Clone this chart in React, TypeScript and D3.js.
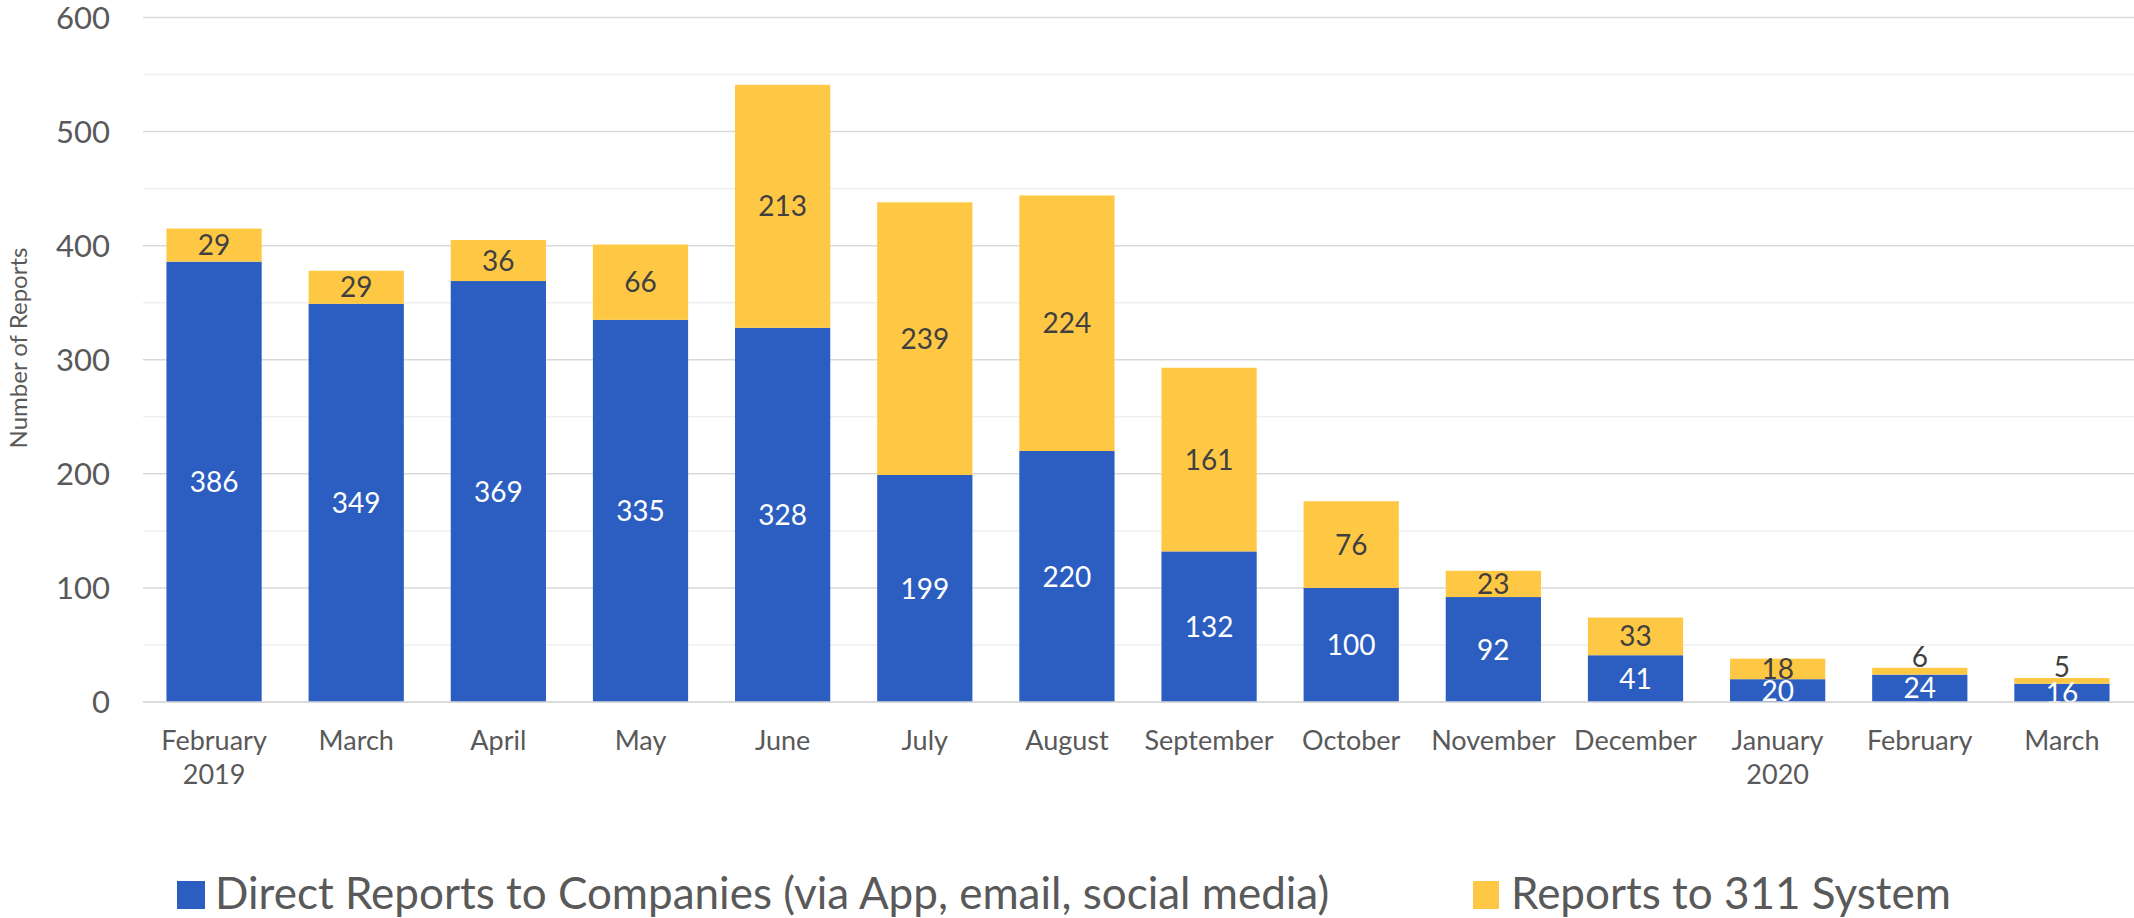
import React from "react";
import * as d3 from "d3";

const months = [
  ["February", "2019"],
  ["March"],
  ["April"],
  ["May"],
  ["June"],
  ["July"],
  ["August"],
  ["September"],
  ["October"],
  ["November"],
  ["December"],
  ["January", "2020"],
  ["February"],
  ["March"],
];
const directReports = [386, 349, 369, 335, 328, 199, 220, 132, 100, 92, 41, 20, 24, 16];
const reports311 = [29, 29, 36, 66, 213, 239, 224, 161, 76, 23, 33, 18, 6, 5];
const yTicks = [0, 100, 200, 300, 400, 500, 600];
const yMinor = [50, 150, 250, 350, 450, 550];
const seriesNames = ["Direct Reports to Companies (via App, email, social media)", "Reports to 311 System"];

const W = 2134;
const H = 918;
const BLUE = "#2C5EC1";
const YELLOW = "#FFC844";
const FONT = "Lato, 'Open Sans', sans-serif";

export default function App() {
  const x = d3
    .scaleBand<number>()
    .domain(d3.range(months.length))
    .range([143, 2133])
    .paddingInner(0.33)
    .paddingOuter(0.165);
  const y = d3.scaleLinear().domain([0, 600]).range([702, 17.5]);
  const bw = x.bandwidth();

  return (
    <svg
      width={W}
      height={H}
      style={{ position: "absolute", left: 0, top: 0, background: "#fff" }}
      fontFamily={FONT}
    >
      {yMinor.map((t) => (
        <line key={"m" + t} x1={143} x2={W} y1={y(t)} y2={y(t)} stroke="#efefef" strokeWidth={1.5} />
      ))}
      {yTicks.map((t) => (
        <line key={"g" + t} x1={143} x2={W} y1={y(t)} y2={y(t)} stroke="#d9d9d9" strokeWidth={1.5} />
      ))}
      {yTicks.map((t) => (
        <text key={"t" + t} x={110} y={y(t)} dy="0.36em" textAnchor="end" fontSize={31} fill="#595959">
          {t}
        </text>
      ))}
      <text
        transform={`translate(18,348) rotate(-90)`}
        textAnchor="middle"
        dy="0.36em"
        fontSize={24}
        fill="#595959"
      >
        Number of Reports
      </text>
      {directReports.map((d, i) => {
        const x0 = x(i)!;
        const s = reports311[i];
        const yb = y(d);
        const yt = y(d + s);
        const yLabelY = s < 10 ? yt - 11 : (yb + yt) / 2;
        return (
          <g key={"b" + i}>
            <rect x={x0} y={yb} width={bw} height={y(0) - yb} fill={BLUE} />
            <rect x={x0} y={yt} width={bw} height={yb - yt} fill={YELLOW} />
            <text x={x0 + bw / 2} y={(yb + y(0)) / 2} dy="0.36em" textAnchor="middle" fontSize={28} fill="#fff">
              {d}
            </text>
            <text x={x0 + bw / 2} y={yLabelY} dy="0.36em" textAnchor="middle" fontSize={28} fill="#404040">
              {s}
            </text>
          </g>
        );
      })}
      <rect x={143} y={703} width={W - 143} height={40} fill="#fff" />
      <line x1={143} x2={W} y1={y(0)} y2={y(0)} stroke="#d9d9d9" strokeWidth={1.5} />
      {months.map((m, i) => (
        <text key={"x" + i} x={x(i)! + bw / 2} y={750} textAnchor="middle" fontSize={27} fill="#595959">
          {m.map((line, j) => (
            <tspan key={j} x={x(i)! + bw / 2} y={750 + j * 34}>
              {line}
            </tspan>
          ))}
        </text>
      ))}
      <rect x={177} y={881} width={28} height={28} fill={BLUE} />
      <text x={215} y={909} fontSize={44} fill="#595959">
        {seriesNames[0]}
      </text>
      <rect x={1473} y={881} width={26} height={28} fill={YELLOW} />
      <text x={1511} y={909} fontSize={44} fill="#595959">
        {seriesNames[1]}
      </text>
    </svg>
  );
}
